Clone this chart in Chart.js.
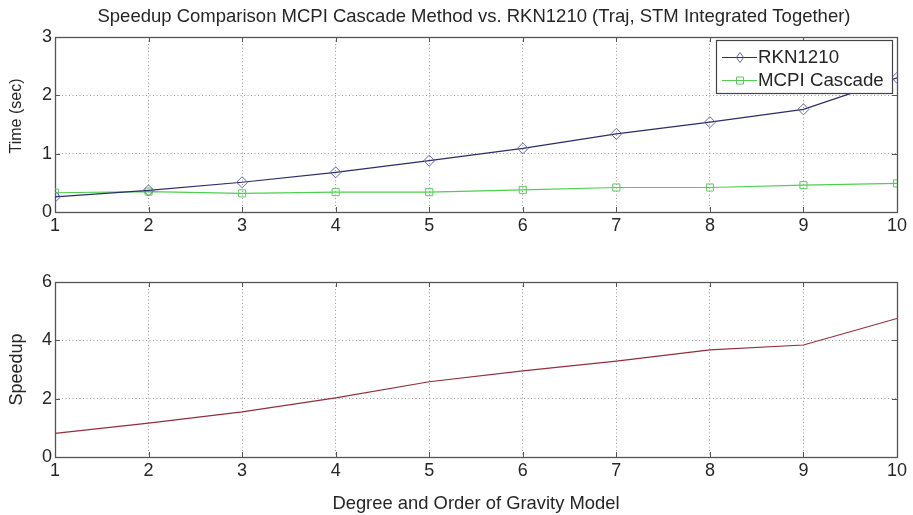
<!DOCTYPE html>
<html><head><meta charset="utf-8">
<script src="https://cdn.jsdelivr.net/npm/chart.js@4/dist/chart.umd.min.js"></script>
<style>
html,body{margin:0;padding:0;background:#fff;overflow:hidden;width:913px;height:515px}
canvas{position:absolute;left:0}
#c1{top:0}#c2{top:250px}
</style></head>
<body>
<canvas id="c1" width="913" height="250"></canvas>
<canvas id="c2" width="913" height="265"></canvas>
<script>
// ---- data ----
const degrees = [1, 2, 3, 4, 5, 6, 7, 8, 9, 10];
const rknTime = [0.26, 0.37, 0.51, 0.68, 0.88, 1.09, 1.34, 1.54, 1.76, 2.30];
const mcpiTime = [0.33, 0.35, 0.32, 0.34, 0.34, 0.38, 0.42, 0.42, 0.46, 0.49];
const speedup = [0.81, 1.16, 1.55, 2.03, 2.58, 2.95, 3.29, 3.67, 3.84, 4.75];
const timeTicks = [0, 1, 2, 3];
const speedupTicks = [0, 2, 4, 6];
const seriesNames = ['RKN1210', 'MCPI Cascade', 'Speedup'];
const titleText = 'Speedup Comparison MCPI Cascade Method vs. RKN1210 (Traj, STM Integrated Together)';
const xTitleText = 'Degree and Order of Gravity Model';
const yTitleTop = 'Time (sec)';
const yTitleBottom = 'Speedup';

const F = "'Liberation Sans', Arial, sans-serif";
const TXT = '#262626';
const toXY = (ys) => degrees.map((d, i) => ({x: d, y: ys[i]}));

// box + inward ticks
const boxPlugin = {
  id: 'matlabBox',
  beforeDatasetsDraw(chart) {
    const {ctx, chartArea: a, scales: {x, y}} = chart;
    ctx.save();
    ctx.strokeStyle = '#555';
    ctx.lineWidth = 1;
    ctx.setLineDash([]);
    ctx.beginPath();
    const L = 5;
    x.ticks.forEach(t => {
      const px = Math.round(x.getPixelForValue(t.value)) + 0.5;
      ctx.moveTo(px, a.bottom); ctx.lineTo(px, a.bottom - L);
      ctx.moveTo(px, a.top); ctx.lineTo(px, a.top + L);
    });
    y.ticks.forEach(t => {
      const py = Math.round(y.getPixelForValue(t.value)) + 0.5;
      ctx.moveTo(a.left, py); ctx.lineTo(a.left + L, py);
      ctx.moveTo(a.right, py); ctx.lineTo(a.right - L, py);
    });
    ctx.stroke();
    ctx.lineWidth = 1.3;
    ctx.strokeRect(Math.round(a.left) + 0.5, Math.round(a.top) + 0.5,
      Math.round(a.right - a.left), Math.round(a.bottom - a.top));
    ctx.restore();
  }
};

// figure title over the axes + y label of the top axes
const textPlugin = {
  id: 'matlabText',
  afterDraw(chart) {
    const {ctx, chartArea: a} = chart;
    ctx.save();
    ctx.fillStyle = TXT;
    ctx.font = '18.5px ' + F;
    ctx.textAlign = 'center';
    ctx.textBaseline = 'middle';
    ctx.fillText(titleText, (a.left + a.right) / 2 - 2, 17);
    ctx.translate(17, 116);
    ctx.rotate(-Math.PI / 2);
    ctx.font = '16px ' + F;
    ctx.fillText(yTitleTop, 0, 0);
    ctx.restore();
  }
};

function drawMarker(ctx, style, cx, cy, color) {
  ctx.save();
  ctx.strokeStyle = color; ctx.lineWidth = 1;
  ctx.beginPath();
  if (style === 'rectRot') {
    ctx.moveTo(cx, cy - 5); ctx.lineTo(cx + 3.6, cy); ctx.lineTo(cx, cy + 5); ctx.lineTo(cx - 3.6, cy); ctx.closePath();
  } else {
    ctx.rect(cx - 3.5, cy - 3.5, 7, 7);
  }
  ctx.stroke();
  ctx.restore();
}

const legendPlugin = {
  id: 'matlabLegend',
  afterDatasetsDraw(chart) {
    const {ctx} = chart;
    const bx = 716, by = 40, bw = 176, bh = 53;
    ctx.save();
    ctx.fillStyle = '#fff';
    ctx.fillRect(bx, by, bw, bh);
    ctx.strokeStyle = '#444'; ctx.lineWidth = 1.2;
    ctx.strokeRect(bx + 0.5, by + 0.5, bw, bh);
    chart.data.datasets.forEach((ds, i) => {
      const yy = by + 17 + i * 23;
      ctx.strokeStyle = ds.borderColor; ctx.lineWidth = 1;
      ctx.beginPath(); ctx.moveTo(bx + 6, yy + 0.5); ctx.lineTo(bx + 41, yy + 0.5); ctx.stroke();
      drawMarker(ctx, ds.pointStyle, bx + 24, yy + 0.5, ds.pointBorderColor);
      ctx.fillStyle = TXT;
      ctx.font = '18.7px ' + F;
      ctx.textBaseline = 'middle';
      ctx.textAlign = 'left';
      ctx.fillText(ds.label, bx + 42, yy + 1);
    });
    ctx.restore();
  }
};

function xScale(height, withTitle) {
  return {
    type: 'linear', min: 1, max: 10,
    afterBuildTicks(s) { s.ticks = degrees.map(v => ({value: v})); },
    ticks: {font: {size: 18, family: F}, color: TXT, padding: 3, maxRotation: 0, autoSkip: false},
    grid: {color: '#9a9a9a', lineWidth: 1, drawTicks: false},
    border: {display: false, dash: [1, 2.5]},
    title: withTitle ? {display: true, text: xTitleText, font: {size: 18.4, family: F}, color: TXT, padding: {top: 0, bottom: 0}} : {display: false},
    afterFit(s) { s.height = height; }
  };
}
function yScale(max, tickVals, title, tsize) {
  return {
    type: 'linear', min: 0, max: max,
    afterBuildTicks(s) { s.ticks = tickVals.map(v => ({value: v})); },
    ticks: {font: {size: 18, family: F}, color: TXT, padding: 3},
    grid: {color: '#9a9a9a', lineWidth: 1, drawTicks: false},
    border: {display: false, dash: [1, 2.5]},
    title: title ? {display: true, text: title, font: {size: tsize, family: F}, color: TXT, padding: {top: 6, bottom: 0}} : {display: false},
    afterFit(s) { s.width = 55; }
  };
}

new Chart(document.getElementById('c1'), {
  type: 'line',
  data: {
    datasets: [
      {label: seriesNames[0], data: toXY(rknTime), borderColor: '#2c2c6a', borderWidth: 1.2,
       pointStyle: 'rectRot', pointRadius: 5.5, pointBorderColor: '#6666b4', pointBackgroundColor: 'rgba(0,0,0,0)', pointBorderWidth: 1, tension: 0},
      {label: seriesNames[1], data: toXY(mcpiTime), borderColor: '#4fcf4f', borderWidth: 1.2,
       pointStyle: 'rect', pointRadius: 5, pointBorderColor: '#5ccc5c', pointBackgroundColor: 'rgba(0,0,0,0)', pointBorderWidth: 1, tension: 0}
    ]
  },
  options: {
    responsive: false, animation: false, devicePixelRatio: 1,
    layout: {padding: {left: 0, right: 16, top: 37, bottom: 0}},
    plugins: {legend: {display: false}, tooltip: {enabled: false}, title: {display: false}},
    scales: {x: xScale(38, false), y: yScale(3, timeTicks, null, 16)}
  },
  plugins: [boxPlugin, legendPlugin, textPlugin]
});

new Chart(document.getElementById('c2'), {
  type: 'line',
  data: {
    datasets: [
      {label: seriesNames[2], data: toXY(speedup), borderColor: '#962c3c', borderWidth: 1.2, pointRadius: 0, tension: 0}
    ]
  },
  options: {
    responsive: false, animation: false, devicePixelRatio: 1,
    layout: {padding: {left: 0, right: 16, top: 32, bottom: 0}},
    plugins: {legend: {display: false}, tooltip: {enabled: false}},
    scales: {x: xScale(58, true), y: yScale(6, speedupTicks, yTitleBottom, 18)}
  },
  plugins: [boxPlugin]
});
</script>
</body></html>
